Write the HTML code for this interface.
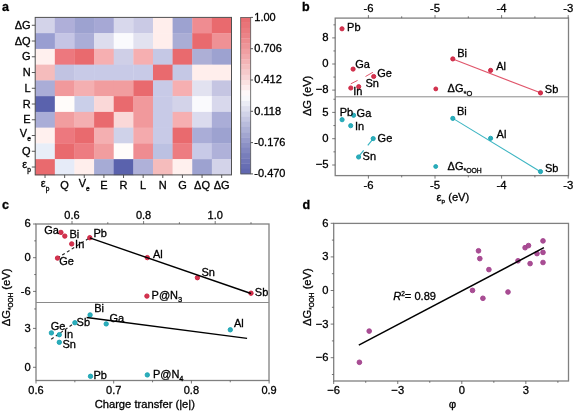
<!DOCTYPE html>
<html><head><meta charset="utf-8"><style>
html,body{margin:0;padding:0;background:#fff;}
body{width:575px;height:413px;overflow:hidden;}
svg{display:block;font-family:"Liberation Sans", sans-serif;will-change:transform;}
text{stroke:#000;stroke-width:0.3px;}
</style></head><body>
<svg width="575" height="413" viewBox="0 0 575 413">
<rect width="575" height="413" fill="#fff"/>
<text x="2.00" y="11.00" font-size="12.5" text-anchor="start" font-weight="bold" font-style="normal" fill="#000" >a</text>
<rect x="35.20" y="17.40" width="19.93" height="16.05" fill="rgb(211,211,233)"/>
<rect x="54.83" y="17.40" width="19.93" height="16.05" fill="rgb(175,175,217)"/>
<rect x="74.46" y="17.40" width="19.93" height="16.05" fill="rgb(157,162,208)"/>
<rect x="94.09" y="17.40" width="19.93" height="16.05" fill="rgb(166,168,213)"/>
<rect x="113.72" y="17.40" width="19.93" height="16.05" fill="rgb(216,216,236)"/>
<rect x="133.35" y="17.40" width="19.93" height="16.05" fill="rgb(202,202,229)"/>
<rect x="152.98" y="17.40" width="19.93" height="16.05" fill="rgb(255,238,236)"/>
<rect x="172.61" y="17.40" width="19.93" height="16.05" fill="rgb(157,162,208)"/>
<rect x="192.24" y="17.40" width="19.93" height="16.05" fill="rgb(239,140,145)"/>
<rect x="211.87" y="17.40" width="19.93" height="16.05" fill="rgb(233,106,110)"/>
<rect x="35.20" y="33.15" width="19.93" height="16.05" fill="rgb(153,158,209)"/>
<rect x="54.83" y="33.15" width="19.93" height="16.05" fill="rgb(197,197,229)"/>
<rect x="74.46" y="33.15" width="19.93" height="16.05" fill="rgb(170,173,215)"/>
<rect x="94.09" y="33.15" width="19.93" height="16.05" fill="rgb(221,221,238)"/>
<rect x="113.72" y="33.15" width="19.93" height="16.05" fill="rgb(250,250,253)"/>
<rect x="133.35" y="33.15" width="19.93" height="16.05" fill="rgb(226,226,240)"/>
<rect x="152.98" y="33.15" width="19.93" height="16.05" fill="rgb(255,238,236)"/>
<rect x="172.61" y="33.15" width="19.93" height="16.05" fill="rgb(170,173,213)"/>
<rect x="192.24" y="33.15" width="19.93" height="16.05" fill="rgb(233,106,110)"/>
<rect x="211.87" y="33.15" width="19.93" height="16.05" fill="rgb(239,145,149)"/>
<rect x="35.20" y="48.90" width="19.93" height="16.05" fill="rgb(255,240,238)"/>
<rect x="54.83" y="48.90" width="19.93" height="16.05" fill="rgb(237,120,126)"/>
<rect x="74.46" y="48.90" width="19.93" height="16.05" fill="rgb(233,106,110)"/>
<rect x="94.09" y="48.90" width="19.93" height="16.05" fill="rgb(246,175,177)"/>
<rect x="113.72" y="48.90" width="19.93" height="16.05" fill="rgb(207,207,231)"/>
<rect x="133.35" y="48.90" width="19.93" height="16.05" fill="rgb(246,175,177)"/>
<rect x="152.98" y="48.90" width="19.93" height="16.05" fill="rgb(197,200,229)"/>
<rect x="172.61" y="48.90" width="19.93" height="16.05" fill="rgb(233,106,110)"/>
<rect x="192.24" y="48.90" width="19.93" height="16.05" fill="rgb(173,175,214)"/>
<rect x="211.87" y="48.90" width="19.93" height="16.05" fill="rgb(157,162,208)"/>
<rect x="35.20" y="64.65" width="19.93" height="16.05" fill="rgb(245,188,188)"/>
<rect x="54.83" y="64.65" width="19.93" height="16.05" fill="rgb(193,195,226)"/>
<rect x="74.46" y="64.65" width="19.93" height="16.05" fill="rgb(200,202,231)"/>
<rect x="94.09" y="64.65" width="19.93" height="16.05" fill="rgb(200,202,231)"/>
<rect x="113.72" y="64.65" width="19.93" height="16.05" fill="rgb(200,202,231)"/>
<rect x="133.35" y="64.65" width="19.93" height="16.05" fill="rgb(200,202,231)"/>
<rect x="152.98" y="64.65" width="19.93" height="16.05" fill="rgb(233,106,110)"/>
<rect x="172.61" y="64.65" width="19.93" height="16.05" fill="rgb(197,200,229)"/>
<rect x="192.24" y="64.65" width="19.93" height="16.05" fill="rgb(255,238,236)"/>
<rect x="211.87" y="64.65" width="19.93" height="16.05" fill="rgb(255,238,236)"/>
<rect x="35.20" y="80.40" width="19.93" height="16.05" fill="rgb(170,173,215)"/>
<rect x="54.83" y="80.40" width="19.93" height="16.05" fill="rgb(241,153,156)"/>
<rect x="74.46" y="80.40" width="19.93" height="16.05" fill="rgb(244,175,177)"/>
<rect x="94.09" y="80.40" width="19.93" height="16.05" fill="rgb(241,157,159)"/>
<rect x="113.72" y="80.40" width="19.93" height="16.05" fill="rgb(241,157,159)"/>
<rect x="133.35" y="80.40" width="19.93" height="16.05" fill="rgb(233,106,110)"/>
<rect x="152.98" y="80.40" width="19.93" height="16.05" fill="rgb(200,202,231)"/>
<rect x="172.61" y="80.40" width="19.93" height="16.05" fill="rgb(246,175,177)"/>
<rect x="192.24" y="80.40" width="19.93" height="16.05" fill="rgb(226,226,240)"/>
<rect x="211.87" y="80.40" width="19.93" height="16.05" fill="rgb(197,197,226)"/>
<rect x="35.20" y="96.15" width="19.93" height="16.05" fill="rgb(90,98,173)"/>
<rect x="54.83" y="96.15" width="19.93" height="16.05" fill="rgb(255,252,250)"/>
<rect x="74.46" y="96.15" width="19.93" height="16.05" fill="rgb(202,207,233)"/>
<rect x="94.09" y="96.15" width="19.93" height="16.05" fill="rgb(250,216,216)"/>
<rect x="113.72" y="96.15" width="19.93" height="16.05" fill="rgb(233,106,110)"/>
<rect x="133.35" y="96.15" width="19.93" height="16.05" fill="rgb(241,153,156)"/>
<rect x="152.98" y="96.15" width="19.93" height="16.05" fill="rgb(200,202,231)"/>
<rect x="172.61" y="96.15" width="19.93" height="16.05" fill="rgb(211,211,233)"/>
<rect x="192.24" y="96.15" width="19.93" height="16.05" fill="rgb(250,250,253)"/>
<rect x="211.87" y="96.15" width="19.93" height="16.05" fill="rgb(216,216,236)"/>
<rect x="35.20" y="111.90" width="19.93" height="16.05" fill="rgb(170,173,215)"/>
<rect x="54.83" y="111.90" width="19.93" height="16.05" fill="rgb(241,157,159)"/>
<rect x="74.46" y="111.90" width="19.93" height="16.05" fill="rgb(244,175,177)"/>
<rect x="94.09" y="111.90" width="19.93" height="16.05" fill="rgb(233,106,110)"/>
<rect x="113.72" y="111.90" width="19.93" height="16.05" fill="rgb(250,216,216)"/>
<rect x="133.35" y="111.90" width="19.93" height="16.05" fill="rgb(241,153,156)"/>
<rect x="152.98" y="111.90" width="19.93" height="16.05" fill="rgb(200,202,231)"/>
<rect x="172.61" y="111.90" width="19.93" height="16.05" fill="rgb(246,175,177)"/>
<rect x="192.24" y="111.90" width="19.93" height="16.05" fill="rgb(219,219,238)"/>
<rect x="211.87" y="111.90" width="19.93" height="16.05" fill="rgb(170,173,215)"/>
<rect x="35.20" y="127.65" width="19.93" height="16.05" fill="rgb(255,240,238)"/>
<rect x="54.83" y="127.65" width="19.93" height="16.05" fill="rgb(237,120,126)"/>
<rect x="74.46" y="127.65" width="19.93" height="16.05" fill="rgb(233,106,110)"/>
<rect x="94.09" y="127.65" width="19.93" height="16.05" fill="rgb(244,175,177)"/>
<rect x="113.72" y="127.65" width="19.93" height="16.05" fill="rgb(207,210,233)"/>
<rect x="133.35" y="127.65" width="19.93" height="16.05" fill="rgb(244,170,173)"/>
<rect x="152.98" y="127.65" width="19.93" height="16.05" fill="rgb(200,202,231)"/>
<rect x="172.61" y="127.65" width="19.93" height="16.05" fill="rgb(233,106,110)"/>
<rect x="192.24" y="127.65" width="19.93" height="16.05" fill="rgb(170,173,215)"/>
<rect x="211.87" y="127.65" width="19.93" height="16.05" fill="rgb(157,162,208)"/>
<rect x="35.20" y="143.40" width="19.93" height="16.05" fill="rgb(232,238,248)"/>
<rect x="54.83" y="143.40" width="19.93" height="16.05" fill="rgb(233,106,110)"/>
<rect x="74.46" y="143.40" width="19.93" height="16.05" fill="rgb(237,124,129)"/>
<rect x="94.09" y="143.40" width="19.93" height="16.05" fill="rgb(241,157,159)"/>
<rect x="113.72" y="143.40" width="19.93" height="16.05" fill="rgb(255,252,250)"/>
<rect x="133.35" y="143.40" width="19.93" height="16.05" fill="rgb(239,140,145)"/>
<rect x="152.98" y="143.40" width="19.93" height="16.05" fill="rgb(188,193,226)"/>
<rect x="172.61" y="143.40" width="19.93" height="16.05" fill="rgb(237,124,129)"/>
<rect x="192.24" y="143.40" width="19.93" height="16.05" fill="rgb(200,202,231)"/>
<rect x="211.87" y="143.40" width="19.93" height="16.05" fill="rgb(175,177,217)"/>
<rect x="35.20" y="159.15" width="19.93" height="16.05" fill="rgb(233,106,110)"/>
<rect x="54.83" y="159.15" width="19.93" height="16.05" fill="rgb(230,235,248)"/>
<rect x="74.46" y="159.15" width="19.93" height="16.05" fill="rgb(255,238,236)"/>
<rect x="94.09" y="159.15" width="19.93" height="16.05" fill="rgb(166,171,213)"/>
<rect x="113.72" y="159.15" width="19.93" height="16.05" fill="rgb(90,98,173)"/>
<rect x="133.35" y="159.15" width="19.93" height="16.05" fill="rgb(175,177,217)"/>
<rect x="152.98" y="159.15" width="19.93" height="16.05" fill="rgb(245,188,188)"/>
<rect x="172.61" y="159.15" width="19.93" height="16.05" fill="rgb(255,240,238)"/>
<rect x="192.24" y="159.15" width="19.93" height="16.05" fill="rgb(157,162,208)"/>
<rect x="211.87" y="159.15" width="19.93" height="16.05" fill="rgb(211,211,233)"/>
<rect x="35.2" y="17.4" width="196.30" height="157.50" fill="none" stroke="#505050" stroke-width="1.0"/>
<line x1="31.80" y1="25.27" x2="35.20" y2="25.27" stroke="#444" stroke-width="0.9" />
<text x="30.60" y="28.77" font-size="11" text-anchor="end" fill="#000">ΔG</text>
<line x1="31.80" y1="41.02" x2="35.20" y2="41.02" stroke="#444" stroke-width="0.9" />
<text x="30.60" y="44.52" font-size="11" text-anchor="end" fill="#000">ΔQ</text>
<line x1="31.80" y1="56.77" x2="35.20" y2="56.77" stroke="#444" stroke-width="0.9" />
<text x="30.60" y="60.27" font-size="11" text-anchor="end" fill="#000">G</text>
<line x1="31.80" y1="72.53" x2="35.20" y2="72.53" stroke="#444" stroke-width="0.9" />
<text x="30.60" y="76.03" font-size="11" text-anchor="end" fill="#000">N</text>
<line x1="31.80" y1="88.28" x2="35.20" y2="88.28" stroke="#444" stroke-width="0.9" />
<text x="30.60" y="91.78" font-size="11" text-anchor="end" fill="#000">L</text>
<line x1="31.80" y1="104.03" x2="35.20" y2="104.03" stroke="#444" stroke-width="0.9" />
<text x="30.60" y="107.53" font-size="11" text-anchor="end" fill="#000">R</text>
<line x1="31.80" y1="119.78" x2="35.20" y2="119.78" stroke="#444" stroke-width="0.9" />
<text x="30.60" y="123.28" font-size="11" text-anchor="end" fill="#000">E</text>
<line x1="31.80" y1="135.53" x2="35.20" y2="135.53" stroke="#444" stroke-width="0.9" />
<text x="30.80" y="136.83" font-size="11" text-anchor="end" fill="#000">V<tspan font-size="6.6" dy="4">e</tspan></text>
<line x1="31.80" y1="151.28" x2="35.20" y2="151.28" stroke="#444" stroke-width="0.9" />
<text x="30.60" y="154.78" font-size="11" text-anchor="end" fill="#000">Q</text>
<line x1="31.80" y1="167.03" x2="35.20" y2="167.03" stroke="#444" stroke-width="0.9" />
<text x="30.80" y="168.33" font-size="11" text-anchor="end" fill="#000">ε<tspan font-size="6.6" dy="4">p</tspan></text>
<line x1="45.02" y1="174.90" x2="45.02" y2="178.00" stroke="#444" stroke-width="0.9" />
<text x="45.02" y="186.80" font-size="11" text-anchor="middle" fill="#000">ε<tspan font-size="6.6" dy="4">p</tspan></text>
<line x1="64.65" y1="174.90" x2="64.65" y2="178.00" stroke="#444" stroke-width="0.9" />
<text x="64.65" y="188.50" font-size="11" text-anchor="middle" fill="#000">Q</text>
<line x1="84.28" y1="174.90" x2="84.28" y2="178.00" stroke="#444" stroke-width="0.9" />
<text x="84.28" y="186.80" font-size="11" text-anchor="middle" fill="#000">V<tspan font-size="6.6" dy="4">e</tspan></text>
<line x1="103.91" y1="174.90" x2="103.91" y2="178.00" stroke="#444" stroke-width="0.9" />
<text x="103.91" y="188.50" font-size="11" text-anchor="middle" fill="#000">E</text>
<line x1="123.54" y1="174.90" x2="123.54" y2="178.00" stroke="#444" stroke-width="0.9" />
<text x="123.54" y="188.50" font-size="11" text-anchor="middle" fill="#000">R</text>
<line x1="143.17" y1="174.90" x2="143.17" y2="178.00" stroke="#444" stroke-width="0.9" />
<text x="143.17" y="188.50" font-size="11" text-anchor="middle" fill="#000">L</text>
<line x1="162.80" y1="174.90" x2="162.80" y2="178.00" stroke="#444" stroke-width="0.9" />
<text x="162.80" y="188.50" font-size="11" text-anchor="middle" fill="#000">N</text>
<line x1="182.43" y1="174.90" x2="182.43" y2="178.00" stroke="#444" stroke-width="0.9" />
<text x="182.43" y="188.50" font-size="11" text-anchor="middle" fill="#000">G</text>
<line x1="202.06" y1="174.90" x2="202.06" y2="178.00" stroke="#444" stroke-width="0.9" />
<text x="202.06" y="188.50" font-size="11" text-anchor="middle" fill="#000">ΔQ</text>
<line x1="221.69" y1="174.90" x2="221.69" y2="178.00" stroke="#444" stroke-width="0.9" />
<text x="221.69" y="188.50" font-size="11" text-anchor="middle" fill="#000">ΔG</text>
<rect x="240.7" y="17.40" width="10.00" height="5.52" fill="rgb(232,110,114)"/>
<rect x="240.7" y="22.62" width="10.00" height="5.52" fill="rgb(233,116,120)"/>
<rect x="240.7" y="27.83" width="10.00" height="5.52" fill="rgb(234,123,127)"/>
<rect x="240.7" y="33.05" width="10.00" height="5.52" fill="rgb(235,131,135)"/>
<rect x="240.7" y="38.27" width="10.00" height="5.52" fill="rgb(237,140,143)"/>
<rect x="240.7" y="43.48" width="10.00" height="5.52" fill="rgb(238,149,152)"/>
<rect x="240.7" y="48.70" width="10.00" height="5.52" fill="rgb(240,159,162)"/>
<rect x="240.7" y="53.92" width="10.00" height="5.52" fill="rgb(241,169,172)"/>
<rect x="240.7" y="59.13" width="10.00" height="5.52" fill="rgb(243,180,182)"/>
<rect x="240.7" y="64.35" width="10.00" height="5.52" fill="rgb(244,191,192)"/>
<rect x="240.7" y="69.57" width="10.00" height="5.52" fill="rgb(246,202,203)"/>
<rect x="240.7" y="74.78" width="10.00" height="5.52" fill="rgb(248,213,214)"/>
<rect x="240.7" y="80.00" width="10.00" height="5.52" fill="rgb(250,225,225)"/>
<rect x="240.7" y="85.22" width="10.00" height="5.52" fill="rgb(252,236,237)"/>
<rect x="240.7" y="90.43" width="10.00" height="5.52" fill="rgb(254,248,249)"/>
<rect x="240.7" y="95.65" width="10.00" height="5.52" fill="rgb(248,248,251)"/>
<rect x="240.7" y="100.87" width="10.00" height="5.52" fill="rgb(235,236,245)"/>
<rect x="240.7" y="106.08" width="10.00" height="5.52" fill="rgb(222,223,238)"/>
<rect x="240.7" y="111.30" width="10.00" height="5.52" fill="rgb(209,211,232)"/>
<rect x="240.7" y="116.52" width="10.00" height="5.52" fill="rgb(197,199,226)"/>
<rect x="240.7" y="121.73" width="10.00" height="5.52" fill="rgb(185,188,220)"/>
<rect x="240.7" y="126.95" width="10.00" height="5.52" fill="rgb(173,177,214)"/>
<rect x="240.7" y="132.17" width="10.00" height="5.52" fill="rgb(162,166,208)"/>
<rect x="240.7" y="137.38" width="10.00" height="5.52" fill="rgb(151,155,203)"/>
<rect x="240.7" y="142.60" width="10.00" height="5.52" fill="rgb(140,145,197)"/>
<rect x="240.7" y="147.82" width="10.00" height="5.52" fill="rgb(130,135,192)"/>
<rect x="240.7" y="153.03" width="10.00" height="5.52" fill="rgb(120,126,187)"/>
<rect x="240.7" y="158.25" width="10.00" height="5.52" fill="rgb(112,118,183)"/>
<rect x="240.7" y="163.47" width="10.00" height="5.52" fill="rgb(103,110,179)"/>
<rect x="240.7" y="168.68" width="10.00" height="5.52" fill="rgb(97,104,176)"/>
<rect x="240.7" y="17.4" width="10.00" height="156.50" fill="none" stroke="#555" stroke-width="0.8"/>
<line x1="250.70" y1="17.40" x2="253.00" y2="17.40" stroke="#444" stroke-width="0.9" />
<text x="254.30" y="20.70" font-size="11" text-anchor="start" font-weight="normal" font-style="normal" fill="#000" >1.00</text>
<line x1="250.70" y1="48.70" x2="253.00" y2="48.70" stroke="#444" stroke-width="0.9" />
<text x="254.30" y="52.00" font-size="11" text-anchor="start" font-weight="normal" font-style="normal" fill="#000" >0.706</text>
<line x1="250.70" y1="80.00" x2="253.00" y2="80.00" stroke="#444" stroke-width="0.9" />
<text x="254.30" y="83.30" font-size="11" text-anchor="start" font-weight="normal" font-style="normal" fill="#000" >0.412</text>
<line x1="250.70" y1="111.30" x2="253.00" y2="111.30" stroke="#444" stroke-width="0.9" />
<text x="254.30" y="114.60" font-size="11" text-anchor="start" font-weight="normal" font-style="normal" fill="#000" >0.118</text>
<line x1="250.70" y1="142.60" x2="253.00" y2="142.60" stroke="#444" stroke-width="0.9" />
<text x="254.30" y="145.90" font-size="11" text-anchor="start" font-weight="normal" font-style="normal" fill="#000" >-0.176</text>
<line x1="250.70" y1="173.90" x2="253.00" y2="173.90" stroke="#444" stroke-width="0.9" />
<text x="254.30" y="177.20" font-size="11" text-anchor="start" font-weight="normal" font-style="normal" fill="#000" >-0.470</text>
<text x="302.00" y="10.90" font-size="12.5" text-anchor="start" font-weight="bold" font-style="normal" fill="#000" >b</text>
<rect x="335.2" y="18.1" width="233.30" height="157.50" fill="none" stroke="#808080" stroke-width="1.3"/>
<line x1="335.20" y1="96.80" x2="568.50" y2="96.80" stroke="#8a8a8a" stroke-width="1.0" />
<line x1="368.40" y1="18.10" x2="368.40" y2="15.10" stroke="#555" stroke-width="0.8" />
<line x1="368.40" y1="175.60" x2="368.40" y2="178.60" stroke="#555" stroke-width="0.8" />
<text x="368.40" y="12.00" font-size="11.3" text-anchor="middle" font-weight="normal" font-style="normal" fill="#000" >-6</text>
<text x="368.40" y="189.40" font-size="11.3" text-anchor="middle" font-weight="normal" font-style="normal" fill="#000" >-6</text>
<line x1="435.00" y1="18.10" x2="435.00" y2="15.10" stroke="#555" stroke-width="0.8" />
<line x1="435.00" y1="175.60" x2="435.00" y2="178.60" stroke="#555" stroke-width="0.8" />
<text x="435.00" y="12.00" font-size="11.3" text-anchor="middle" font-weight="normal" font-style="normal" fill="#000" >-5</text>
<text x="435.00" y="189.40" font-size="11.3" text-anchor="middle" font-weight="normal" font-style="normal" fill="#000" >-5</text>
<line x1="501.60" y1="18.10" x2="501.60" y2="15.10" stroke="#555" stroke-width="0.8" />
<line x1="501.60" y1="175.60" x2="501.60" y2="178.60" stroke="#555" stroke-width="0.8" />
<text x="501.60" y="12.00" font-size="11.3" text-anchor="middle" font-weight="normal" font-style="normal" fill="#000" >-4</text>
<text x="501.60" y="189.40" font-size="11.3" text-anchor="middle" font-weight="normal" font-style="normal" fill="#000" >-4</text>
<line x1="568.20" y1="18.10" x2="568.20" y2="15.10" stroke="#555" stroke-width="0.8" />
<line x1="568.20" y1="175.60" x2="568.20" y2="178.60" stroke="#555" stroke-width="0.8" />
<text x="568.20" y="12.00" font-size="11.3" text-anchor="middle" font-weight="normal" font-style="normal" fill="#000" >-3</text>
<text x="568.20" y="189.40" font-size="11.3" text-anchor="middle" font-weight="normal" font-style="normal" fill="#000" >-3</text>
<line x1="401.70" y1="18.10" x2="401.70" y2="16.30" stroke="#555" stroke-width="0.8" />
<line x1="401.70" y1="175.60" x2="401.70" y2="177.40" stroke="#555" stroke-width="0.8" />
<line x1="468.30" y1="18.10" x2="468.30" y2="16.30" stroke="#555" stroke-width="0.8" />
<line x1="468.30" y1="175.60" x2="468.30" y2="177.40" stroke="#555" stroke-width="0.8" />
<line x1="534.90" y1="18.10" x2="534.90" y2="16.30" stroke="#555" stroke-width="0.8" />
<line x1="534.90" y1="175.60" x2="534.90" y2="177.40" stroke="#555" stroke-width="0.8" />
<line x1="332.20" y1="37.90" x2="335.20" y2="37.90" stroke="#555" stroke-width="0.8" />
<text x="328.60" y="41.10" font-size="11.3" text-anchor="end" font-weight="normal" font-style="normal" fill="#000" >8</text>
<line x1="332.20" y1="64.00" x2="335.20" y2="64.00" stroke="#555" stroke-width="0.8" />
<text x="328.60" y="67.20" font-size="11.3" text-anchor="end" font-weight="normal" font-style="normal" fill="#000" >0</text>
<line x1="332.20" y1="90.10" x2="335.20" y2="90.10" stroke="#555" stroke-width="0.8" />
<text x="328.60" y="93.30" font-size="11.3" text-anchor="end" font-weight="normal" font-style="normal" fill="#000" >−8</text>
<line x1="333.40" y1="24.85" x2="335.20" y2="24.85" stroke="#555" stroke-width="0.8" />
<line x1="333.40" y1="50.95" x2="335.20" y2="50.95" stroke="#555" stroke-width="0.8" />
<line x1="333.40" y1="77.05" x2="335.20" y2="77.05" stroke="#555" stroke-width="0.8" />
<line x1="332.20" y1="112.40" x2="335.20" y2="112.40" stroke="#555" stroke-width="0.8" />
<text x="328.60" y="115.60" font-size="11.3" text-anchor="end" font-weight="normal" font-style="normal" fill="#000" >5</text>
<line x1="332.20" y1="138.70" x2="335.20" y2="138.70" stroke="#555" stroke-width="0.8" />
<text x="328.60" y="141.90" font-size="11.3" text-anchor="end" font-weight="normal" font-style="normal" fill="#000" >0</text>
<line x1="332.20" y1="165.00" x2="335.20" y2="165.00" stroke="#555" stroke-width="0.8" />
<text x="328.60" y="168.20" font-size="11.3" text-anchor="end" font-weight="normal" font-style="normal" fill="#000" >−5</text>
<line x1="333.40" y1="99.25" x2="335.20" y2="99.25" stroke="#555" stroke-width="0.8" />
<line x1="333.40" y1="125.55" x2="335.20" y2="125.55" stroke="#555" stroke-width="0.8" />
<line x1="333.40" y1="151.85" x2="335.20" y2="151.85" stroke="#555" stroke-width="0.8" />
<text x="0" y="0" font-size="11.2" text-anchor="middle" fill="#000" transform="translate(311,95.9) rotate(-90)">ΔG (eV)</text>
<text x="436.6" y="200.6" font-size="11.2" fill="#000">ε<tspan font-size="6.2" dy="2.6">p</tspan><tspan dy="-2.6"> (eV)</tspan></text>
<line x1="452.80" y1="59.00" x2="540.40" y2="92.80" stroke="#e0566b" stroke-width="1.1" />
<line x1="350.80" y1="83.80" x2="357.60" y2="80.40" stroke="#e0566b" stroke-width="1.0" />
<line x1="365.50" y1="76.50" x2="372.90" y2="72.30" stroke="#e0566b" stroke-width="1.0" />
<circle cx="342.00" cy="28.80" r="2.10" fill="#d3344f" stroke="#cc1f3d" stroke-width="0.9"/>
<circle cx="353.10" cy="69.10" r="2.10" fill="#d3344f" stroke="#cc1f3d" stroke-width="0.9"/>
<circle cx="373.70" cy="76.50" r="2.10" fill="#d3344f" stroke="#cc1f3d" stroke-width="0.9"/>
<circle cx="358.70" cy="86.70" r="2.10" fill="#d3344f" stroke="#cc1f3d" stroke-width="0.9"/>
<circle cx="350.80" cy="88.00" r="2.10" fill="#d3344f" stroke="#cc1f3d" stroke-width="0.9"/>
<circle cx="452.80" cy="58.90" r="2.10" fill="#d3344f" stroke="#cc1f3d" stroke-width="0.9"/>
<circle cx="490.60" cy="70.40" r="2.10" fill="#d3344f" stroke="#cc1f3d" stroke-width="0.9"/>
<circle cx="540.50" cy="92.90" r="2.10" fill="#d3344f" stroke="#cc1f3d" stroke-width="0.9"/>
<circle cx="435.80" cy="88.90" r="1.95" fill="#d3344f" stroke="#cc1f3d" stroke-width="0.9"/>
<text x="347.10" y="30.90" font-size="11" text-anchor="start" font-weight="normal" font-style="normal" fill="#000" >Pb</text>
<text x="355.20" y="68.00" font-size="11" text-anchor="start" font-weight="normal" font-style="normal" fill="#000" >Ga</text>
<text x="377.30" y="76.50" font-size="11" text-anchor="start" font-weight="normal" font-style="normal" fill="#000" >Ge</text>
<text x="365.40" y="87.20" font-size="11" text-anchor="start" font-weight="normal" font-style="normal" fill="#000" >Sn</text>
<text x="353.20" y="94.80" font-size="11" text-anchor="start" font-weight="normal" font-style="normal" fill="#000" >In</text>
<text x="457.20" y="56.70" font-size="11" text-anchor="start" font-weight="normal" font-style="normal" fill="#000" >Bi</text>
<text x="496.20" y="70.10" font-size="11" text-anchor="start" font-weight="normal" font-style="normal" fill="#000" >Al</text>
<text x="544.80" y="92.90" font-size="11" text-anchor="start" font-weight="normal" font-style="normal" fill="#000" >Sb</text>
<text x="447.6" y="91.9" font-size="11" fill="#000">ΔG<tspan font-size="7.5" dy="4.4">*O</tspan></text>
<line x1="452.90" y1="118.40" x2="540.50" y2="171.70" stroke="#3db5c2" stroke-width="1.1" />
<line x1="373.30" y1="138.70" x2="358.60" y2="156.60" stroke="#3db5c2" stroke-width="1.2" stroke-dasharray="8.7,6.5"/>
<circle cx="342.10" cy="119.70" r="2.10" fill="#2cadba" stroke="#17a3b2" stroke-width="0.9"/>
<circle cx="353.60" cy="115.30" r="2.10" fill="#2cadba" stroke="#17a3b2" stroke-width="0.9"/>
<circle cx="350.70" cy="125.70" r="2.10" fill="#2cadba" stroke="#17a3b2" stroke-width="0.9"/>
<circle cx="373.20" cy="138.60" r="2.10" fill="#2cadba" stroke="#17a3b2" stroke-width="0.9"/>
<circle cx="358.60" cy="157.00" r="2.10" fill="#2cadba" stroke="#17a3b2" stroke-width="0.9"/>
<circle cx="452.80" cy="118.40" r="2.10" fill="#2cadba" stroke="#17a3b2" stroke-width="0.9"/>
<circle cx="490.60" cy="138.30" r="2.10" fill="#2cadba" stroke="#17a3b2" stroke-width="0.9"/>
<circle cx="540.50" cy="171.60" r="2.10" fill="#2cadba" stroke="#17a3b2" stroke-width="0.9"/>
<circle cx="435.70" cy="166.50" r="1.95" fill="#2cadba" stroke="#17a3b2" stroke-width="0.9"/>
<text x="339.70" y="115.70" font-size="11" text-anchor="start" font-weight="normal" font-style="normal" fill="#000" >Pb</text>
<text x="356.60" y="117.30" font-size="11" text-anchor="start" font-weight="normal" font-style="normal" fill="#000" >Ga</text>
<text x="355.00" y="130.20" font-size="11" text-anchor="start" font-weight="normal" font-style="normal" fill="#000" >In</text>
<text x="377.60" y="141.70" font-size="11" text-anchor="start" font-weight="normal" font-style="normal" fill="#000" >Ge</text>
<text x="362.60" y="159.80" font-size="11" text-anchor="start" font-weight="normal" font-style="normal" fill="#000" >Sn</text>
<text x="457.00" y="114.80" font-size="11" text-anchor="start" font-weight="normal" font-style="normal" fill="#000" >Bi</text>
<text x="496.60" y="137.60" font-size="11" text-anchor="start" font-weight="normal" font-style="normal" fill="#000" >Al</text>
<text x="544.90" y="171.60" font-size="11" text-anchor="start" font-weight="normal" font-style="normal" fill="#000" >Sb</text>
<text x="447.6" y="169.5" font-size="11" fill="#000">ΔG<tspan font-size="6.8" dy="3.2">*OOH</tspan></text>
<text x="2.00" y="208.80" font-size="12.5" text-anchor="start" font-weight="bold" font-style="normal" fill="#000" >c</text>
<rect x="36.0" y="224.0" width="233.00" height="156.50" fill="none" stroke="#808080" stroke-width="1.3"/>
<line x1="36.00" y1="302.50" x2="269.00" y2="302.50" stroke="#8a8a8a" stroke-width="1.0" />
<line x1="72.00" y1="224.00" x2="72.00" y2="221.00" stroke="#555" stroke-width="0.8" />
<text x="72.00" y="219.10" font-size="11" text-anchor="middle" font-weight="normal" font-style="normal" fill="#000" >0.6</text>
<line x1="143.60" y1="224.00" x2="143.60" y2="221.00" stroke="#555" stroke-width="0.8" />
<text x="143.60" y="219.10" font-size="11" text-anchor="middle" font-weight="normal" font-style="normal" fill="#000" >0.8</text>
<line x1="215.20" y1="224.00" x2="215.20" y2="221.00" stroke="#555" stroke-width="0.8" />
<text x="215.20" y="219.10" font-size="11" text-anchor="middle" font-weight="normal" font-style="normal" fill="#000" >1.0</text>
<line x1="107.80" y1="224.00" x2="107.80" y2="222.20" stroke="#555" stroke-width="0.8" />
<line x1="179.40" y1="224.00" x2="179.40" y2="222.20" stroke="#555" stroke-width="0.8" />
<line x1="251.00" y1="224.00" x2="251.00" y2="222.20" stroke="#555" stroke-width="0.8" />
<line x1="36.00" y1="380.50" x2="36.00" y2="383.50" stroke="#555" stroke-width="0.8" />
<text x="36.00" y="394.30" font-size="11" text-anchor="middle" font-weight="normal" font-style="normal" fill="#000" >0.6</text>
<line x1="113.70" y1="380.50" x2="113.70" y2="383.50" stroke="#555" stroke-width="0.8" />
<text x="113.70" y="394.30" font-size="11" text-anchor="middle" font-weight="normal" font-style="normal" fill="#000" >0.7</text>
<line x1="191.40" y1="380.50" x2="191.40" y2="383.50" stroke="#555" stroke-width="0.8" />
<text x="191.40" y="394.30" font-size="11" text-anchor="middle" font-weight="normal" font-style="normal" fill="#000" >0.8</text>
<line x1="269.10" y1="380.50" x2="269.10" y2="383.50" stroke="#555" stroke-width="0.8" />
<text x="269.10" y="394.30" font-size="11" text-anchor="middle" font-weight="normal" font-style="normal" fill="#000" >0.9</text>
<line x1="74.85" y1="380.50" x2="74.85" y2="382.30" stroke="#555" stroke-width="0.8" />
<line x1="152.55" y1="380.50" x2="152.55" y2="382.30" stroke="#555" stroke-width="0.8" />
<line x1="230.25" y1="380.50" x2="230.25" y2="382.30" stroke="#555" stroke-width="0.8" />
<line x1="33.00" y1="224.00" x2="36.00" y2="224.00" stroke="#555" stroke-width="0.8" />
<text x="30.80" y="227.40" font-size="11.2" text-anchor="end" font-weight="normal" font-style="normal" fill="#000" >6</text>
<line x1="33.00" y1="257.70" x2="36.00" y2="257.70" stroke="#555" stroke-width="0.8" />
<text x="30.80" y="261.10" font-size="11.2" text-anchor="end" font-weight="normal" font-style="normal" fill="#000" >0</text>
<line x1="33.00" y1="291.40" x2="36.00" y2="291.40" stroke="#555" stroke-width="0.8" />
<text x="30.80" y="294.80" font-size="11.2" text-anchor="end" font-weight="normal" font-style="normal" fill="#000" >-6</text>
<line x1="34.20" y1="240.85" x2="36.00" y2="240.85" stroke="#555" stroke-width="0.8" />
<line x1="34.20" y1="274.55" x2="36.00" y2="274.55" stroke="#555" stroke-width="0.8" />
<line x1="33.00" y1="328.40" x2="36.00" y2="328.40" stroke="#555" stroke-width="0.8" />
<text x="30.80" y="331.80" font-size="11.2" text-anchor="end" font-weight="normal" font-style="normal" fill="#000" >3</text>
<line x1="33.00" y1="367.30" x2="36.00" y2="367.30" stroke="#555" stroke-width="0.8" />
<text x="30.80" y="370.70" font-size="11.2" text-anchor="end" font-weight="normal" font-style="normal" fill="#000" >0</text>
<line x1="34.20" y1="308.95" x2="36.00" y2="308.95" stroke="#555" stroke-width="0.8" />
<line x1="34.20" y1="347.85" x2="36.00" y2="347.85" stroke="#555" stroke-width="0.8" />
<text x="0" y="0" font-size="11.2" fill="#000" text-anchor="middle" transform="translate(10.4,297.4) rotate(-90)">ΔG<tspan font-size="6.5" dy="3">*OOH</tspan><tspan dy="-3"> (eV)</tspan></text>
<text x="144.80" y="408.30" font-size="11.2" text-anchor="middle" font-weight="normal" font-style="normal" fill="#000" >Charge transfer (|e|)</text>
<line x1="57.50" y1="258.10" x2="89.80" y2="237.70" stroke="#222" stroke-width="1.15" stroke-dasharray="3,2.6"/>
<line x1="51.20" y1="339.30" x2="74.90" y2="322.70" stroke="#222" stroke-width="1.15" stroke-dasharray="3,2.6"/>
<circle cx="60.90" cy="232.40" r="2.20" fill="#d3344f" stroke="#cc1f3d" stroke-width="0.9"/>
<circle cx="64.80" cy="236.10" r="2.20" fill="#d3344f" stroke="#cc1f3d" stroke-width="0.9"/>
<circle cx="71.70" cy="243.90" r="2.20" fill="#d3344f" stroke="#cc1f3d" stroke-width="0.9"/>
<circle cx="89.80" cy="237.70" r="2.20" fill="#d3344f" stroke="#cc1f3d" stroke-width="0.9"/>
<circle cx="57.50" cy="258.10" r="2.20" fill="#d3344f" stroke="#cc1f3d" stroke-width="0.9"/>
<circle cx="147.30" cy="257.60" r="2.20" fill="#d3344f" stroke="#cc1f3d" stroke-width="0.9"/>
<circle cx="197.40" cy="277.70" r="2.20" fill="#d3344f" stroke="#cc1f3d" stroke-width="0.9"/>
<circle cx="251.00" cy="293.20" r="2.20" fill="#d3344f" stroke="#cc1f3d" stroke-width="0.9"/>
<circle cx="146.90" cy="296.10" r="2.20" fill="#d3344f" stroke="#cc1f3d" stroke-width="0.9"/>
<circle cx="90.10" cy="314.90" r="2.20" fill="#2cadba" stroke="#17a3b2" stroke-width="0.9"/>
<circle cx="74.90" cy="322.70" r="2.20" fill="#2cadba" stroke="#17a3b2" stroke-width="0.9"/>
<circle cx="106.20" cy="323.90" r="2.20" fill="#2cadba" stroke="#17a3b2" stroke-width="0.9"/>
<circle cx="51.40" cy="332.90" r="2.20" fill="#2cadba" stroke="#17a3b2" stroke-width="0.9"/>
<circle cx="59.30" cy="334.70" r="2.20" fill="#2cadba" stroke="#17a3b2" stroke-width="0.9"/>
<circle cx="59.30" cy="342.30" r="2.20" fill="#2cadba" stroke="#17a3b2" stroke-width="0.9"/>
<circle cx="90.50" cy="376.30" r="2.20" fill="#2cadba" stroke="#17a3b2" stroke-width="0.9"/>
<circle cx="230.30" cy="329.80" r="2.20" fill="#2cadba" stroke="#17a3b2" stroke-width="0.9"/>
<circle cx="147.30" cy="374.90" r="2.20" fill="#2cadba" stroke="#17a3b2" stroke-width="0.9"/>
<line x1="89.80" y1="237.90" x2="251.00" y2="293.50" stroke="#000" stroke-width="1.4" />
<line x1="86.60" y1="317.50" x2="247.10" y2="338.40" stroke="#000" stroke-width="1.4" />
<text x="44.30" y="233.80" font-size="11" text-anchor="start" font-weight="normal" font-style="normal" fill="#000" >Ga</text>
<text x="69.50" y="238.00" font-size="11" text-anchor="start" font-weight="normal" font-style="normal" fill="#000" >Bi</text>
<text x="75.10" y="247.70" font-size="11" text-anchor="start" font-weight="normal" font-style="normal" fill="#000" >In</text>
<text x="93.50" y="236.60" font-size="11" text-anchor="start" font-weight="normal" font-style="normal" fill="#000" >Pb</text>
<text x="59.20" y="264.70" font-size="11" text-anchor="start" font-weight="normal" font-style="normal" fill="#000" >Ge</text>
<text x="153.00" y="258.40" font-size="11" text-anchor="start" font-weight="normal" font-style="normal" fill="#000" >Al</text>
<text x="201.40" y="275.50" font-size="11" text-anchor="start" font-weight="normal" font-style="normal" fill="#000" >Sn</text>
<text x="254.80" y="296.10" font-size="11" text-anchor="start" font-weight="normal" font-style="normal" fill="#000" >Sb</text>
<text x="151.6" y="299.4" font-size="11" fill="#000">P@N<tspan font-size="7.5" dy="3">3</tspan></text>
<text x="94.20" y="312.20" font-size="11" text-anchor="start" font-weight="normal" font-style="normal" fill="#000" >Bi</text>
<text x="109.40" y="321.60" font-size="11" text-anchor="start" font-weight="normal" font-style="normal" fill="#000" >Ga</text>
<text x="76.60" y="325.50" font-size="11" text-anchor="start" font-weight="normal" font-style="normal" fill="#000" >Sb</text>
<text x="50.70" y="329.70" font-size="11" text-anchor="start" font-weight="normal" font-style="normal" fill="#000" >Ge</text>
<text x="63.90" y="338.30" font-size="11" text-anchor="start" font-weight="normal" font-style="normal" fill="#000" >In</text>
<text x="62.50" y="347.70" font-size="11" text-anchor="start" font-weight="normal" font-style="normal" fill="#000" >Sn</text>
<text x="93.50" y="379.10" font-size="11" text-anchor="start" font-weight="normal" font-style="normal" fill="#000" >Pb</text>
<text x="234.00" y="326.70" font-size="11" text-anchor="start" font-weight="normal" font-style="normal" fill="#000" >Al</text>
<text x="152.9" y="378.2" font-size="11" fill="#000">P@N<tspan font-size="7.5" dy="3">4</tspan></text>
<text x="302.50" y="209.20" font-size="12.5" text-anchor="start" font-weight="bold" font-style="normal" fill="#000" >d</text>
<rect x="333.7" y="223.4" width="234.80" height="157.60" fill="none" stroke="#808080" stroke-width="1.3"/>
<line x1="333.70" y1="381.00" x2="333.70" y2="384.00" stroke="#555" stroke-width="0.8" />
<text x="333.70" y="394.30" font-size="11.2" text-anchor="middle" font-weight="normal" font-style="normal" fill="#000" >−6</text>
<line x1="397.75" y1="381.00" x2="397.75" y2="384.00" stroke="#555" stroke-width="0.8" />
<text x="397.75" y="394.30" font-size="11.2" text-anchor="middle" font-weight="normal" font-style="normal" fill="#000" >−3</text>
<line x1="461.80" y1="381.00" x2="461.80" y2="384.00" stroke="#555" stroke-width="0.8" />
<text x="461.80" y="394.30" font-size="11.2" text-anchor="middle" font-weight="normal" font-style="normal" fill="#000" >0</text>
<line x1="525.85" y1="381.00" x2="525.85" y2="384.00" stroke="#555" stroke-width="0.8" />
<text x="525.85" y="394.30" font-size="11.2" text-anchor="middle" font-weight="normal" font-style="normal" fill="#000" >3</text>
<line x1="365.73" y1="381.00" x2="365.73" y2="382.80" stroke="#555" stroke-width="0.8" />
<line x1="429.77" y1="381.00" x2="429.77" y2="382.80" stroke="#555" stroke-width="0.8" />
<line x1="493.83" y1="381.00" x2="493.83" y2="382.80" stroke="#555" stroke-width="0.8" />
<line x1="557.88" y1="381.00" x2="557.88" y2="382.80" stroke="#555" stroke-width="0.8" />
<line x1="330.70" y1="223.30" x2="333.70" y2="223.30" stroke="#555" stroke-width="0.8" />
<text x="328.60" y="226.80" font-size="11.2" text-anchor="end" font-weight="normal" font-style="normal" fill="#000" >6</text>
<line x1="330.70" y1="256.90" x2="333.70" y2="256.90" stroke="#555" stroke-width="0.8" />
<text x="328.60" y="260.40" font-size="11.2" text-anchor="end" font-weight="normal" font-style="normal" fill="#000" >3</text>
<line x1="330.70" y1="290.50" x2="333.70" y2="290.50" stroke="#555" stroke-width="0.8" />
<text x="328.60" y="294.00" font-size="11.2" text-anchor="end" font-weight="normal" font-style="normal" fill="#000" >0</text>
<line x1="330.70" y1="324.10" x2="333.70" y2="324.10" stroke="#555" stroke-width="0.8" />
<text x="328.60" y="327.60" font-size="11.2" text-anchor="end" font-weight="normal" font-style="normal" fill="#000" >−3</text>
<line x1="330.70" y1="357.70" x2="333.70" y2="357.70" stroke="#555" stroke-width="0.8" />
<text x="328.60" y="361.20" font-size="11.2" text-anchor="end" font-weight="normal" font-style="normal" fill="#000" >−6</text>
<line x1="331.90" y1="240.10" x2="333.70" y2="240.10" stroke="#555" stroke-width="0.8" />
<line x1="331.90" y1="273.70" x2="333.70" y2="273.70" stroke="#555" stroke-width="0.8" />
<line x1="331.90" y1="307.30" x2="333.70" y2="307.30" stroke="#555" stroke-width="0.8" />
<line x1="331.90" y1="340.90" x2="333.70" y2="340.90" stroke="#555" stroke-width="0.8" />
<line x1="331.90" y1="374.50" x2="333.70" y2="374.50" stroke="#555" stroke-width="0.8" />
<text x="0" y="0" font-size="11.2" fill="#000" text-anchor="middle" transform="translate(310.5,297.1) rotate(-90)">ΔG<tspan font-size="6.5" dy="3">*OOH</tspan><tspan dy="-3"> (eV)</tspan></text>
<text x="452.60" y="407.50" font-size="11.5" text-anchor="middle" font-weight="normal" font-style="normal" fill="#000" >φ</text>
<circle cx="478.50" cy="250.80" r="2.35" fill="#a84e93" stroke="#a3418d" stroke-width="0.9"/>
<circle cx="479.80" cy="258.60" r="2.35" fill="#a84e93" stroke="#a3418d" stroke-width="0.9"/>
<circle cx="488.90" cy="269.60" r="2.35" fill="#a84e93" stroke="#a3418d" stroke-width="0.9"/>
<circle cx="472.50" cy="290.40" r="2.35" fill="#a84e93" stroke="#a3418d" stroke-width="0.9"/>
<circle cx="482.90" cy="298.30" r="2.35" fill="#a84e93" stroke="#a3418d" stroke-width="0.9"/>
<circle cx="508.00" cy="292.00" r="2.35" fill="#a84e93" stroke="#a3418d" stroke-width="0.9"/>
<circle cx="518.00" cy="260.80" r="2.35" fill="#a84e93" stroke="#a3418d" stroke-width="0.9"/>
<circle cx="525.10" cy="247.70" r="2.35" fill="#a84e93" stroke="#a3418d" stroke-width="0.9"/>
<circle cx="528.50" cy="245.60" r="2.35" fill="#a84e93" stroke="#a3418d" stroke-width="0.9"/>
<circle cx="530.10" cy="263.60" r="2.35" fill="#a84e93" stroke="#a3418d" stroke-width="0.9"/>
<circle cx="537.00" cy="253.60" r="2.35" fill="#a84e93" stroke="#a3418d" stroke-width="0.9"/>
<circle cx="543.00" cy="240.90" r="2.35" fill="#a84e93" stroke="#a3418d" stroke-width="0.9"/>
<circle cx="543.00" cy="252.40" r="2.35" fill="#a84e93" stroke="#a3418d" stroke-width="0.9"/>
<circle cx="543.00" cy="262.50" r="2.35" fill="#a84e93" stroke="#a3418d" stroke-width="0.9"/>
<circle cx="369.20" cy="331.10" r="2.35" fill="#a84e93" stroke="#a3418d" stroke-width="0.9"/>
<circle cx="359.40" cy="362.30" r="2.35" fill="#a84e93" stroke="#a3418d" stroke-width="0.9"/>
<line x1="358.80" y1="345.10" x2="543.90" y2="247.70" stroke="#000" stroke-width="1.5" />
<text x="393.2" y="300.1" font-size="11.1" fill="#000"><tspan font-style="italic">R</tspan><tspan font-size="6.5" dy="-4.3">2</tspan><tspan dy="4.3">= 0.89</tspan></text>
</svg>
</body></html>
